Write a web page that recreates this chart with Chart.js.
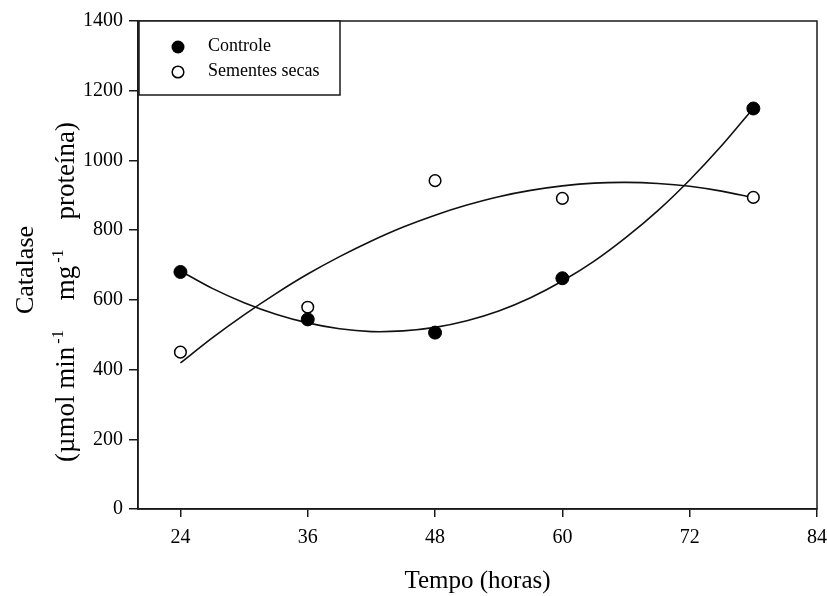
<!DOCTYPE html>
<html>
<head>
<meta charset="utf-8">
<script src="https://cdn.jsdelivr.net/npm/chart.js@4.4.1/dist/chart.umd.min.js"></script>
<style>
html,body{margin:0;padding:0;background:#fff;}
#wrap{width:827px;height:596px;position:relative;}
</style>
</head>
<body>
<div id="wrap"><canvas id="c" width="827" height="596"></canvas></div>
<script>
// ---- data ----
const xTicks = [24, 36, 48, 60, 72, 84];
const yTicks = [0, 200, 400, 600, 800, 1000, 1200, 1400];
const horas = [24, 36, 48, 60, 78];
const controle = [680, 544, 506, 662, 1149];
const sementesSecas = [450, 579, 942, 891, 894];
// fitted curves
const curveX = [24, 27, 30, 33, 36, 39, 42, 45, 48, 51, 54, 57, 60, 63, 66, 69, 72, 75, 78];
const controleCurve = [683, 633, 592, 559, 534, 517, 509, 511, 521, 540, 568, 606, 654, 711, 779, 856, 944, 1042, 1150];
const sementesCurve = [419, 491, 557, 618, 674, 724, 769, 809, 843, 872, 896, 914, 927, 935, 937, 934, 926, 912, 893];
const seriesNames = ['Controle', 'Sementes secas'];
const xTitle = 'Tempo (horas)';
const yTitle1 = 'Catalase';
const yTitle2Parts = [
  {t: '(\u00b5mol min', sup: false},
  {t: '-1', sup: true},
  {t: 'mg', sup: false},
  {t: '-1', sup: true},
  {t: 'prote\u00edna)', sup: false}
];

const SERIF = '"Liberation Serif", "Times New Roman", serif';
const pts = (xs, ys) => xs.map((x, i) => ({x: x, y: ys[i]}));

const framePlugin = {
  id: 'frame',
  afterDraw(chart) {
    const ctx = chart.ctx;
    const a = chart.chartArea;
    ctx.save();
    ctx.strokeStyle = '#1a1a1a';
    ctx.lineWidth = 1.5;
    ctx.strokeRect(a.left, a.top, a.right - a.left, a.bottom - a.top);

    // legend box
    const lx = a.left + 1, ly = a.top, lw = 201, lh = 74;
    ctx.fillStyle = '#fff';
    ctx.fillRect(lx, ly, lw, lh);
    ctx.strokeRect(lx, ly, lw, lh);
    ctx.beginPath();
    ctx.arc(178, 47, 6.5, 0, Math.PI * 2);
    ctx.fillStyle = '#000';
    ctx.fill();
    ctx.beginPath();
    ctx.arc(178, 72, 5.8, 0, Math.PI * 2);
    ctx.fillStyle = '#fff';
    ctx.fill();
    ctx.lineWidth = 1.5;
    ctx.strokeStyle = '#000';
    ctx.stroke();
    ctx.fillStyle = '#000';
    ctx.font = '18px ' + SERIF;
    ctx.textBaseline = 'middle';
    ctx.textAlign = 'left';
    ctx.fillText(seriesNames[0], 208, 46);
    ctx.fillText(seriesNames[1], 208, 71);

    // x title
    ctx.font = '25px ' + SERIF;
    ctx.textAlign = 'center';
    ctx.textBaseline = 'alphabetic';
    ctx.fillText(xTitle, (a.left + a.right) / 2, 588);

    // y title line 1
    ctx.save();
    ctx.translate(33, 270);
    ctx.rotate(-Math.PI / 2);
    ctx.textAlign = 'center';
    ctx.font = '26px ' + SERIF;
    ctx.fillText(yTitle1, 0, 0);
    ctx.restore();

    // y title line 2 with superscripts, spread from y=462 to y=122
    ctx.save();
    const startY = 462, endY = 122;
    ctx.translate(74, startY);
    ctx.rotate(-Math.PI / 2);
    ctx.textAlign = 'left';
    const mainF = '27px ' + SERIF, supF = '16px ' + SERIF;
    const widths = yTitle2Parts.map(p => { ctx.font = p.sup ? supF : mainF; return ctx.measureText(p.t).width; });
    const natural = widths.reduce((s, w) => s + w, 0);
    const supGap = 3;
    const nSup = yTitle2Parts.filter(p => p.sup).length;
    const gap = ((startY - endY) - natural - supGap * nSup) / nSup;
    let x = 0;
    yTitle2Parts.forEach((p, i) => {
      ctx.font = p.sup ? supF : mainF;
      if (p.sup) x += supGap;
      ctx.fillText(p.t, x, p.sup ? -11 : 0);
      x += widths[i];
      if (p.sup) x += gap;
    });
    ctx.restore();
    ctx.restore();
  }
};

new Chart(document.getElementById('c'), {
  type: 'scatter',
  data: {
    datasets: [
      {label: seriesNames[0], data: pts(horas, controle), pointRadius: 6.5, pointHoverRadius: 6.5,
       backgroundColor: '#000', borderColor: '#000', borderWidth: 1},
      {label: seriesNames[1], data: pts(horas, sementesSecas), pointRadius: 5.8, pointHoverRadius: 5.8,
       backgroundColor: '#fff', borderColor: '#000', borderWidth: 1.5},
      {label: 'ajuste controle', data: pts(curveX, controleCurve), showLine: true, pointRadius: 0,
       borderColor: '#111', borderWidth: 1.6, tension: 0.3, fill: false},
      {label: 'ajuste sementes', data: pts(curveX, sementesCurve), showLine: true, pointRadius: 0,
       borderColor: '#111', borderWidth: 1.6, tension: 0.3, fill: false}
    ]
  },
  options: {
    responsive: false,
    animation: false,
    devicePixelRatio: 1,
    layout: {padding: {top: 21, right: 10, left: 0, bottom: 0}},
    plugins: {legend: {display: false}, tooltip: {enabled: false}},
    scales: {
      x: {
        type: 'linear', min: 20, max: 84,
        afterBuildTicks: s => { s.ticks = xTicks.map(v => ({value: v})); },
        afterFit: s => { s.height = 87; s.paddingRight = 0; s.paddingLeft = 0; },
        ticks: {font: {family: SERIF, size: 20}, color: '#000', padding: 9, maxRotation: 0,
                callback: v => String(v)},
        grid: {drawOnChartArea: false, drawTicks: true, tickLength: 8, color: '#1a1a1a', lineWidth: 1.5},
        border: {display: true, color: '#1a1a1a', width: 1.5}
      },
      y: {
        type: 'linear', min: 0, max: 1400,
        afterBuildTicks: s => { s.ticks = yTicks.map(v => ({value: v})); },
        afterFit: s => { s.width = 138; s.paddingTop = 0; s.paddingBottom = 0; },
        ticks: {font: {family: SERIF, size: 20}, color: '#000', padding: 6,
                callback: v => String(v)},
        grid: {drawOnChartArea: false, drawTicks: true, tickLength: 9, color: '#1a1a1a', lineWidth: 1.5},
        border: {display: true, color: '#1a1a1a', width: 1.5}
      }
    }
  },
  plugins: [framePlugin]
});
</script>
</body>
</html>
